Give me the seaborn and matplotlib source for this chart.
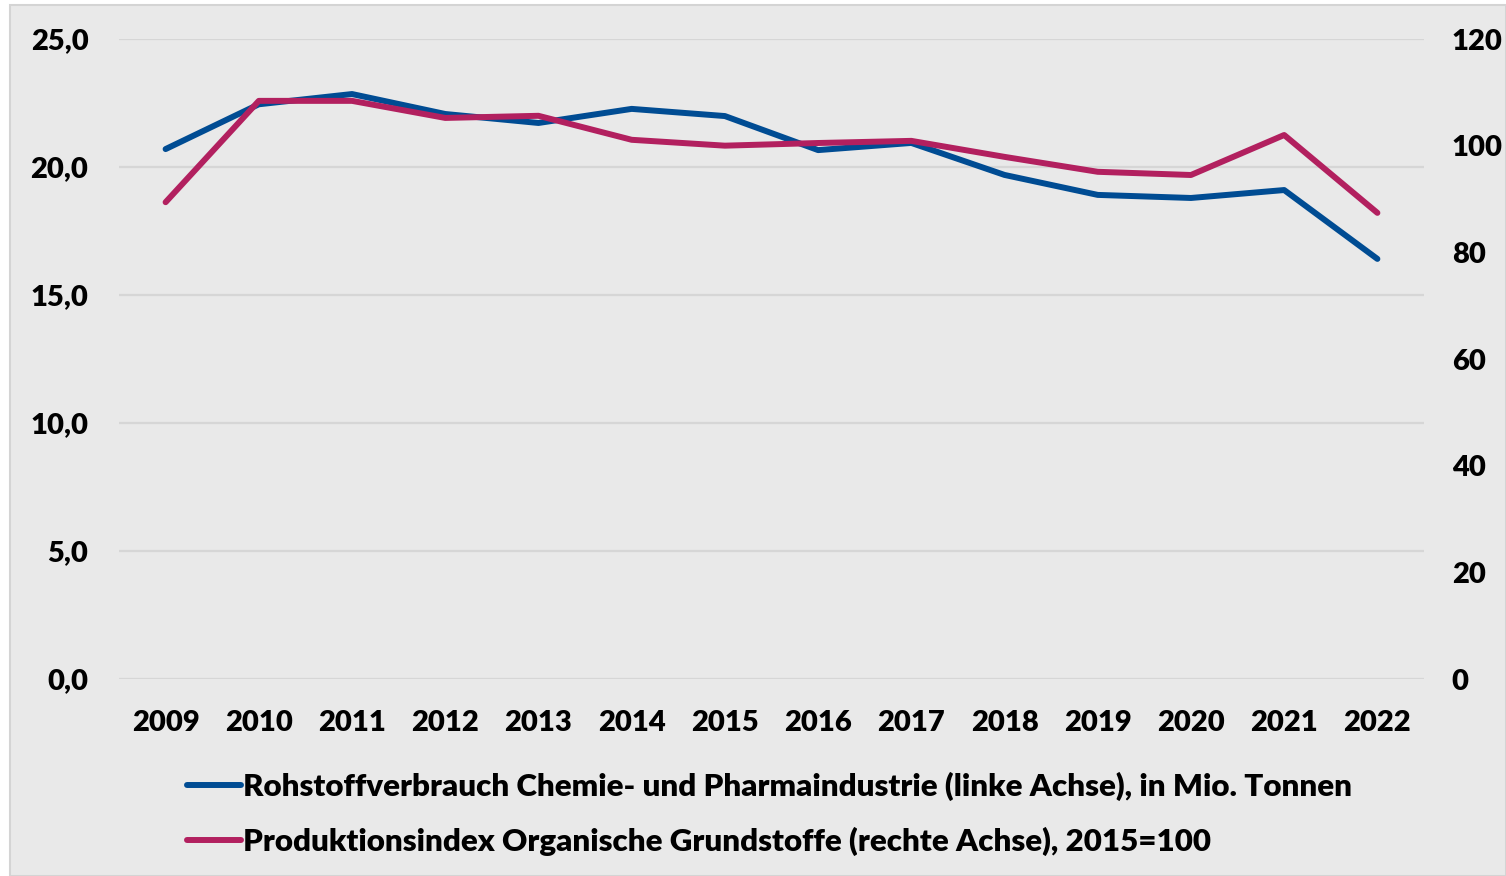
import pandas as pd
import matplotlib.pyplot as plt
import matplotlib.ticker as mtick
from matplotlib.patches import Rectangle
import seaborn as sns

# ─── Data ─────────────────────────────────────────────────────────────────────
years = ["2009", "2010", "2011", "2012", "2013", "2014", "2015",
         "2016", "2017", "2018", "2019", "2020", "2021", "2022"]
rohstoff = [20.7, 22.45, 22.85, 22.07, 21.72, 22.27, 21.99,
            20.66, 20.94, 19.69, 18.91, 18.79, 19.10, 16.41]
prodindex = [89.4, 108.4, 108.4, 105.2, 105.6, 101.1, 100.0,
             100.5, 100.9, 97.9, 95.1, 94.5, 102.0, 87.4]
label_left = "Rohstoffverbrauch Chemie- und Pharmaindustrie (linke Achse), in Mio. Tonnen"
label_right = "Produktionsindex Organische Grundstoffe (rechte Achse), 2015=100"

BLUE = "#004C93"
MAGENTA = "#B2205F"
BG = "#E9E9E9"
WEIGHT = "heavy"

sns.set_theme(style="white")
plt.rcParams["font.family"] = ["Lato", "DejaVu Sans"]
plt.rcParams["font.weight"] = WEIGHT
plt.rcParams["text.color"] = "black"

df = pd.DataFrame({"year": years, "rohstoff": rohstoff, "index": prodindex})

fig = plt.figure(figsize=(15.06, 8.76), dpi=100, facecolor="white")
fig.patches.append(Rectangle((10 / 1506, 0), 1 - 10 / 1506, 1 - 5 / 876,
                             transform=fig.transFigure, facecolor=BG,
                             edgecolor="#D4D4D4", linewidth=1.5, zorder=-10))
ax = fig.add_axes([119 / 1506, 1 - 679 / 876, (1424 - 119) / 1506, 640 / 876])
ax.set_facecolor("none")
ax2 = ax.twinx()

sns.lineplot(data=df, x="year", y="rohstoff", ax=ax, color=BLUE, linewidth=4.3,
             sort=False, solid_capstyle="round", label=label_left, legend=False)
sns.lineplot(data=df, x="year", y="index", ax=ax2, color=MAGENTA, linewidth=4.3,
             sort=False, solid_capstyle="round", label=label_right, legend=False)

ax.set_ylim(0, 25)
ax.set_yticks([0, 5, 10, 15, 20, 25])
ax.yaxis.set_major_formatter(mtick.FuncFormatter(lambda v, _: f"{v:.1f}".replace(".", ",")))
ax2.set_ylim(0, 120)
ax2.set_yticks([0, 20, 40, 60, 80, 100, 120])
ax.set_xlim(-0.5, len(years) - 0.5)

ax.grid(axis="y", color="#D6D6D6", linewidth=1.6)
ax.set_axisbelow(True)
for a in (ax, ax2):
    for s in a.spines.values():
        s.set_visible(False)
    a.set_xlabel("")
    a.set_ylabel("")
ax.tick_params(axis="both", length=0, labelsize=21, colors="black")
ax.tick_params(axis="y", pad=22)
ax.tick_params(axis="x", pad=22)
ax2.tick_params(axis="y", length=0, labelsize=21, colors="black", pad=20)
for t in ax.get_xticklabels() + ax.get_yticklabels() + ax2.get_yticklabels():
    t.set_fontweight(WEIGHT)

handles = ax.get_lines()[:1] + ax2.get_lines()[:1]
leg = fig.legend(handles, [label_left, label_right], loc="upper left",
                 bbox_to_anchor=(174 / 1506, 1 - 759 / 876), frameon=False,
                 fontsize=22.5, handlelength=1.75, handletextpad=0.05,
                 labelspacing=0.85, borderaxespad=0)
for t in leg.get_texts():
    t.set_fontweight(WEIGHT)
    t.set_color("black")

plt.savefig("out.png", dpi=100, facecolor=fig.get_facecolor())
